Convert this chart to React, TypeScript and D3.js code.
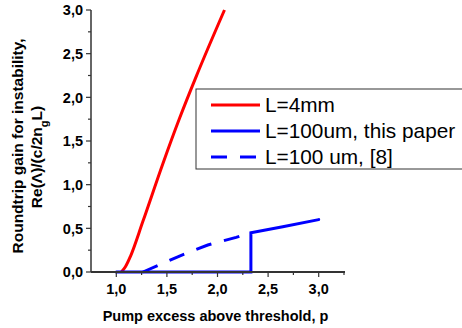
import React from "react";
import * as d3 from "d3";

const redP = [1.05, 1.09, 1.14, 1.263, 1.46, 1.625, 1.79, 2.069];
const redG = [0, 0.06, 0.18, 0.58, 1.24, 1.76, 2.24, 3.0];

const blueP = [1.0, 2.33, 2.33, 2.645, 3.0];
const blueG = [0, 0, 0.45, 0.519, 0.6];

const dashP = [1.263, 1.625, 1.904, 2.184, 2.33];
const dashG = [0, 0.183, 0.309, 0.397, 0.45];

const xTicks = [1.0, 1.5, 2.0, 2.5, 3.0];
const xMinor = [1.25, 1.75, 2.25, 2.75, 3.25];
const yTicks = [0, 0.5, 1.0, 1.5, 2.0, 2.5, 3.0];
const yMinor = [0.25, 0.75, 1.25, 1.75, 2.25, 2.75];

const legendLabels = ["L=4mm", "L=100um, this paper", "L=100 um, [8]"];

const fmt = (v: number) => v.toFixed(1).replace(".", ",");

export default function App() {
  const x = d3.scaleLinear().domain([0.75, 3.25]).range([91, 344]);
  const y = d3.scaleLinear().domain([0, 3]).range([272, 10]);
  const lineCurve = d3
    .line<[number, number]>()
    .x((d) => x(d[0]))
    .y((d) => y(d[1]))
    .curve(d3.curveMonotoneX);
  const lineLin = d3
    .line<[number, number]>()
    .x((d) => x(d[0]))
    .y((d) => y(d[1]));
  const red = redP.map((p, i) => [p, redG[i]] as [number, number]);
  const blue = blueP.map((p, i) => [p, blueG[i]] as [number, number]);
  const dash = dashP.map((p, i) => [p, dashG[i]] as [number, number]);
  const axisColor = "#333";
  const font = "Liberation Sans, Arial, sans-serif";
  const legendY = [105, 131, 157];

  return (
    <svg
      width={462}
      height={328}
      style={{ position: "absolute", left: 0, top: 0, background: "#fff" }}
      fontFamily={font}
    >
      <rect width={462} height={328} fill="#fff" />
      {/* curves */}
      <path d={lineCurve(red) || ""} fill="none" stroke="#ff0000" strokeWidth={3} />
      <path
        d={lineLin(dash) || ""}
        fill="none"
        stroke="#0000ff"
        strokeWidth={3}
        strokeDasharray="16,13"
      />
      <path
        d={lineLin(blue) || ""}
        fill="none"
        stroke="#0000ff"
        strokeWidth={3}
        strokeLinecap="round"
      />
      {/* axes */}
      <line x1={91} x2={91} y1={y(3)} y2={y(0)} stroke={axisColor} strokeWidth={1.5} />
      <line x1={91} x2={345} y1={y(0)} y2={y(0)} stroke={axisColor} strokeWidth={1.8} />
      {yTicks.map((t) => (
        <g key={"y" + t}>
          <line x1={86} x2={91} y1={y(t)} y2={y(t)} stroke={axisColor} strokeWidth={1.2} />
          <text
            x={83}
            y={y(t)}
            dy="0.36em"
            textAnchor="end"
            fontSize={14.5}
            fontWeight="bold"
          >
            {fmt(t)}
          </text>
        </g>
      ))}
      {yMinor.map((t) => (
        <line key={"ym" + t} x1={88} x2={91} y1={y(t)} y2={y(t)} stroke={axisColor} strokeWidth={1.2} />
      ))}
      {xTicks.map((t) => (
        <g key={"x" + t}>
          <line x1={x(t)} x2={x(t)} y1={y(0)} y2={y(0) + 5} stroke={axisColor} strokeWidth={1.2} />
          <text x={x(t)} y={294} textAnchor="middle" fontSize={14.5} fontWeight="bold">
            {fmt(t)}
          </text>
        </g>
      ))}
      {xMinor.map((t) => (
        <line key={"xm" + t} x1={x(t)} x2={x(t)} y1={y(0)} y2={y(0) + 3} stroke={axisColor} strokeWidth={1.2} />
      ))}
      {/* axis titles */}
      <text x={215.5} y={321} textAnchor="middle" fontSize={14.5} fontWeight="bold">
        Pump excess above threshold, p
      </text>
      <text
        transform="translate(23,146) rotate(-90)"
        textAnchor="middle"
        fontSize={15.5}
        fontWeight="bold"
      >
        Roundtrip gain for instability,
      </text>
      <text
        transform="translate(42,157) rotate(-90)"
        textAnchor="middle"
        fontSize={15.5}
        fontWeight="bold"
      >
        Re(Λ)/(c/2n<tspan baselineShift="sub" fontSize={11}>g</tspan>L)
      </text>
      {/* legend */}
      <rect x={196} y={89} width={280} height={80} fill="#fff" stroke={axisColor} strokeWidth={1} />
      {legendLabels.map((lab, i) => (
        <g key={lab}>
          <line
            x1={211}
            x2={260}
            y1={legendY[i]}
            y2={legendY[i]}
            stroke={i === 0 ? "#ff0000" : "#0000ff"}
            strokeWidth={3}
            strokeDasharray={i === 2 ? "16,13" : undefined}
          />
          <text x={265} y={legendY[i]} dy="0.36em" fontSize={20.8}>
            {lab}
          </text>
        </g>
      ))}
    </svg>
  );
}
